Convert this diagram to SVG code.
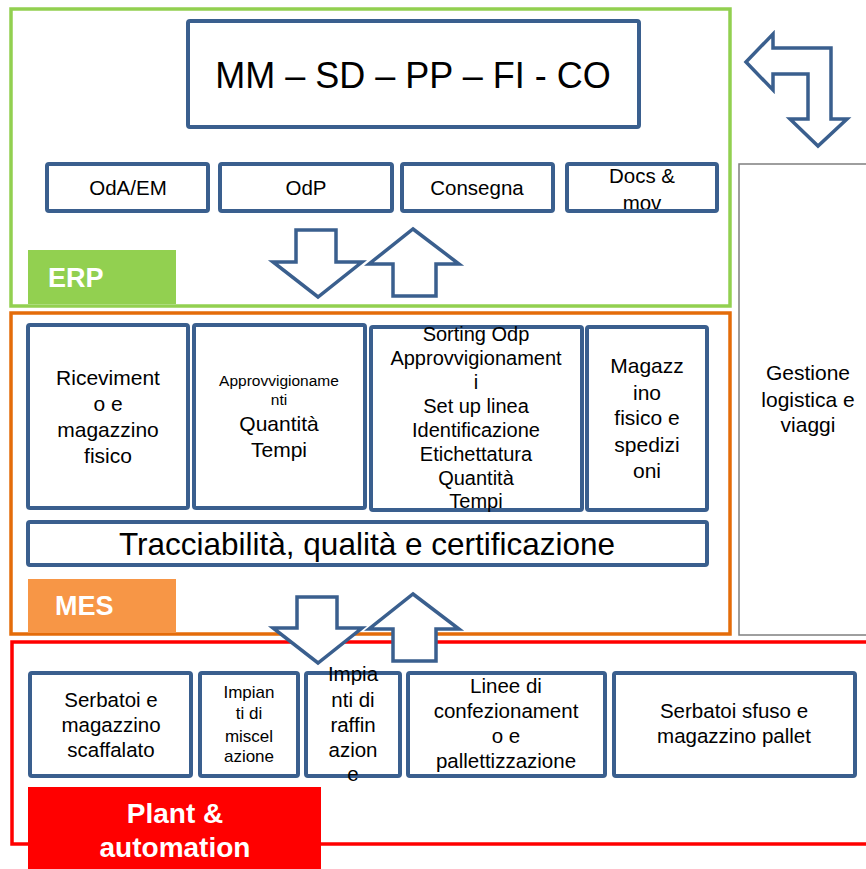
<svg xmlns="http://www.w3.org/2000/svg" width="866" height="869" viewBox="0 0 866 869">
<style>
  .frame{fill:none;stroke-width:3.5}
  .box{fill:#fff;stroke:#3A5F8E;stroke-width:4}
  .t{font-family:"Liberation Sans",Arial,sans-serif;fill:#000;text-anchor:middle}
  .lbl{font-family:"Liberation Sans",Arial,sans-serif;fill:#fff;font-weight:bold}
  .arr{fill:#fff;stroke:#3A5F8E;stroke-width:3.5;stroke-linejoin:miter}
</style>
<rect width="866" height="869" fill="#fff"/>

<g id="gestione">
  <rect x="739" y="164" width="140" height="471" fill="#fff" stroke="#7F7F7F" stroke-width="1.5"/>
  <text class="t" font-size="21" x="808" y="380">Gestione</text>
  <text class="t" font-size="21" x="808" y="407">logistica e</text>
  <text class="t" font-size="21" x="808" y="432">viaggi</text>
</g>

<g id="erp">
  <rect class="frame" x="11" y="9" width="719" height="297" stroke="#92D050"/>
  <rect x="28" y="250" width="148" height="54" fill="#92D050"/>
  <text class="lbl" font-size="27" x="48" y="287">ERP</text>
</g>

<g id="mes">
  <rect class="frame" x="11" y="313" width="719" height="321" stroke="#E46C0A"/>
  <rect x="28" y="579" width="148" height="54" fill="#F79646"/>
  <text class="lbl" font-size="27" x="55" y="615">MES</text>
</g>

<g id="plant">
  <rect class="frame" x="12" y="642" width="880" height="202" stroke="#FF0000"/>
  <rect x="28" y="787" width="293" height="82" fill="#FF0000"/>
  <text class="lbl" font-size="28" x="175" y="823" text-anchor="middle">Plant &amp;</text>
  <text class="lbl" font-size="28" x="175" y="857" text-anchor="middle">automation</text>
</g>

<g id="mm">
  <rect class="box" x="188" y="21" width="451" height="106" rx="2"/>
  <text class="t" font-size="36" x="413" y="88">MM – SD – PP – FI - CO</text>
</g>

<g id="oda">
  <rect class="box" x="47" y="164" width="161" height="47" rx="2"/>
  <text class="t" font-size="20.5" x="128" y="195">OdA/EM</text>
</g>
<g id="odp">
  <rect class="box" x="220" y="164" width="172" height="47" rx="2"/>
  <text class="t" font-size="20.5" x="306" y="195">OdP</text>
</g>
<g id="consegna">
  <rect class="box" x="402" y="164" width="151" height="47" rx="2"/>
  <text class="t" font-size="20.5" x="477" y="195">Consegna</text>
</g>
<g id="docs">
  <text class="t" font-size="20.5" x="642" y="183">Docs &amp;</text>
  <text class="t" font-size="20.5" x="642" y="210">mov</text>
  <rect x="567" y="164" width="150" height="47" rx="2" fill="none" stroke="#3A5F8E" stroke-width="4"/>
</g>

<g id="ricevimento">
  <rect class="box" x="28" y="325" width="160" height="183" rx="2"/>
  <text class="t" font-size="21" x="108" y="385">Riceviment</text>
  <text class="t" font-size="21" x="108" y="411">o e</text>
  <text class="t" font-size="21" x="108" y="437">magazzino</text>
  <text class="t" font-size="21" x="108" y="463">fisico</text>
</g>
<g id="approvvigionamenti">
  <rect class="box" x="194" y="325" width="171" height="183" rx="2"/>
  <text class="t" font-size="15.5" x="279" y="386">Approvvigioname</text>
  <text class="t" font-size="15.5" x="279" y="405">nti</text>
  <text class="t" font-size="21" x="279" y="431">Quantità</text>
  <text class="t" font-size="21" x="279" y="457">Tempi</text>
</g>
<g id="sorting">
  <rect class="box" x="371" y="327" width="211" height="183" rx="2"/>
  <text class="t" font-size="20" x="476" y="341">Sorting Odp</text>
  <text class="t" font-size="20" x="476" y="365">Approvvigionament</text>
  <text class="t" font-size="20" x="476" y="389">i</text>
  <text class="t" font-size="20" x="476" y="413">Set up linea</text>
  <text class="t" font-size="20" x="476" y="437">Identificazione</text>
  <text class="t" font-size="20" x="476" y="461">Etichettatura</text>
  <text class="t" font-size="20" x="476" y="485">Quantità</text>
  <text class="t" font-size="20" x="476" y="508">Tempi</text>
</g>
<g id="magazzino-fisico">
  <rect class="box" x="587" y="327" width="120" height="183" rx="2"/>
  <text class="t" font-size="21" x="647" y="373">Magazz</text>
  <text class="t" font-size="21" x="647" y="400">ino</text>
  <text class="t" font-size="21" x="647" y="425">fisico e</text>
  <text class="t" font-size="21" x="647" y="452">spedizi</text>
  <text class="t" font-size="21" x="647" y="478">oni</text>
</g>
<g id="tracciabilita">
  <rect class="box" x="28" y="522" width="679" height="43" rx="2"/>
  <text class="t" font-size="31.5" x="367" y="555">Tracciabilità, qualità e certificazione</text>
</g>

<g id="serbatoi-scaffalato">
  <rect class="box" x="30" y="673" width="161" height="103" rx="2"/>
  <text class="t" font-size="20.5" x="111" y="707">Serbatoi e</text>
  <text class="t" font-size="20.5" x="111" y="732">magazzino</text>
  <text class="t" font-size="20.5" x="111" y="757">scaffalato</text>
</g>
<g id="miscelazione">
  <rect class="box" x="200" y="673" width="98" height="103" rx="2"/>
  <text class="t" font-size="17" x="249" y="698">Impian</text>
  <text class="t" font-size="17" x="249" y="719">ti di</text>
  <text class="t" font-size="17" x="249" y="742">miscel</text>
  <text class="t" font-size="17" x="249" y="762">azione</text>
</g>
<g id="raffinazione">
  <rect class="box" x="306" y="673" width="94" height="103" rx="2"/>
  <text class="t" font-size="20.5" x="353" y="681">Impia</text>
  <text class="t" font-size="20.5" x="353" y="707">nti di</text>
  <text class="t" font-size="20.5" x="353" y="732">raffin</text>
  <text class="t" font-size="20.5" x="353" y="757">azion</text>
  <text class="t" font-size="20.5" x="353" y="781">e</text>
</g>
<g id="confezionamento">
  <rect class="box" x="408" y="673" width="197" height="103" rx="2"/>
  <text class="t" font-size="20.5" x="506" y="693">Linee di</text>
  <text class="t" font-size="20.5" x="506" y="718">confezionament</text>
  <text class="t" font-size="20.5" x="506" y="743">o e</text>
  <text class="t" font-size="20.5" x="506" y="768">pallettizzazione</text>
</g>
<g id="serbatoi-sfuso">
  <rect class="box" x="614" y="673" width="241" height="103" rx="2"/>
  <text class="t" font-size="20.5" x="734" y="718">Serbatoi sfuso e</text>
  <text class="t" font-size="20.5" x="734" y="743">magazzino pallet</text>
</g>

<g id="connectors">
  <polygon class="arr" points="746,62 773,34 773,48 831,48 831,119 847,119 818,146 790,119 808,119 808,74 773,74 773,90"/>
  <polygon class="arr" points="296,230 336,230 336,262 362,262 318,297 273,262 296,262"/>
  <polygon class="arr" points="413,229 459,264 436,264 436,296 393,296 393,264 369,264"/>
  <polygon class="arr" points="297,597 337,597 337,628 362,628 318,663 273,628 297,628"/>
  <polygon class="arr" points="413,594 459,629 436,629 436,661 393,661 393,629 369,629"/>
</g>
</svg>
